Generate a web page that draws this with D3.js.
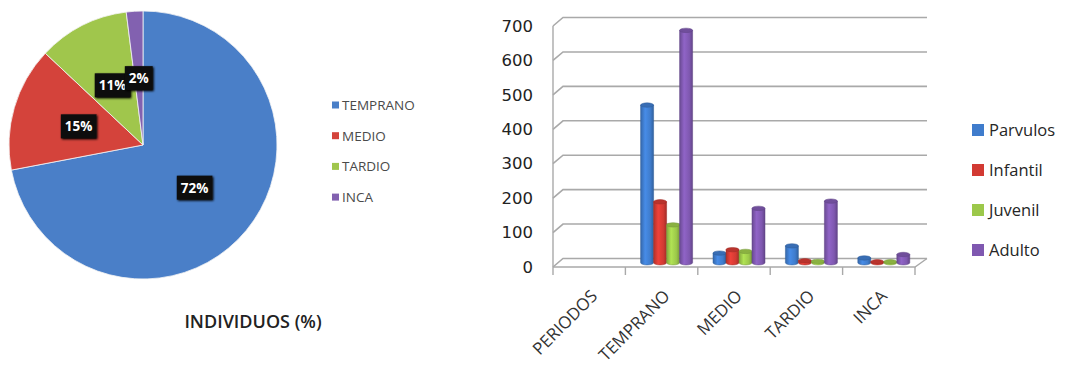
<!DOCTYPE html>
<html>
<head>
<meta charset="utf-8">
<script src="https://cdn.jsdelivr.net/npm/d3@7/dist/d3.min.js"></script>
<style>
  body { margin: 0; background: #fff; }
  svg { display: block; }
</style>
</head>
<body>
<svg id="chart" width="1065" height="366"></svg>
<script>
// ---- Pie: share of individuals per period ----
const periods = ["TEMPRANO", "MEDIO", "TARDIO", "INCA"];
const periodShare = [72, 15, 11, 2];
const periodColors = ["#4a7fc8", "#d4433b", "#a0c64c", "#8261b0"];

// ---- Bars: individuals per age group and period ----
const barCategories = ["PERIODOS", "TEMPRANO", "MEDIO", "TARDIO", "INCA"];
const ageGroups = ["Parvulos", "Infantil", "Juvenil", "Adulto"];
const parvulos = [0, 458, 28, 49, 14];
const infantil = [0, 177, 38, 6, 3];
const juvenil  = [0, 110, 33, 4, 3];
const adulto   = [0, 675, 158, 179, 24];
const ageColors = ["#3f7ccc", "#d23a33", "#9cc84a", "#7f58b0"];
const yTicks = [0, 100, 200, 300, 400, 500, 600, 700];

const svg = d3.select("#chart");
svg.append("rect").attr("width", 1065).attr("height", 366).attr("fill", "#fff");

const defs = svg.append("defs");
const shadow = defs.append("filter").attr("id", "lblShadow")
  .attr("x", "-30%").attr("y", "-30%").attr("width", "160%").attr("height", "160%");
shadow.append("feGaussianBlur").attr("in", "SourceAlpha").attr("stdDeviation", 1.2).attr("result", "b");
shadow.append("feOffset").attr("in", "b").attr("dx", 1).attr("dy", 1).attr("result", "o");
const merge = shadow.append("feMerge");
merge.append("feMergeNode").attr("in", "o");
merge.append("feMergeNode").attr("in", "SourceGraphic");

// ================= PIE =================
const pieCx = 143, pieCy = 145, pieR = 134;
const pieG = svg.append("g").attr("transform", `translate(${pieCx},${pieCy})`);
const pieData = d3.pie().sort(null).value(d => d)(periodShare);
const arc = d3.arc().innerRadius(0).outerRadius(pieR);
const labelArc = d3.arc().innerRadius(pieR * 0.5).outerRadius(pieR * 0.5);

pieG.selectAll("path.slice").data(pieData).join("path")
  .attr("class", "slice")
  .attr("d", arc)
  .attr("fill", (d, i) => periodColors[i])
  .attr("stroke", "#f4f4f4")
  .attr("stroke-width", 0.8);

const lbl = pieG.selectAll("g.lbl").data(pieData).join("g")
  .attr("class", "lbl")
  .attr("transform", d => `translate(${labelArc.centroid(d)})`);
lbl.append("rect").attr("filter", "url(#lblShadow)").attr("fill", "#111");
lbl.append("text")
  .attr("text-anchor", "middle")
  .attr("dy", "0.36em")
  .attr("fill", "#fff")
  .style("font-family", "'Open Sans', sans-serif")
  .style("font-weight", "bold")
  .style("font-size", "13.5px")
  .text(d => d.data + "%");
lbl.each(function () {
  const t = d3.select(this).select("text").node();
  const w = t.getComputedTextLength();
  d3.select(this).select("rect")
    .attr("x", -w / 2 - 4).attr("y", -12).attr("width", w + 8).attr("height", 24);
});

// pie legend
const pieLeg = svg.append("g").attr("transform", "translate(332,105)");
const pl = pieLeg.selectAll("g").data(periods).join("g")
  .attr("transform", (d, i) => `translate(0,${i * 30.7})`);
pl.append("rect").attr("x", 0).attr("y", -3.5).attr("width", 7).attr("height", 7)
  .attr("fill", (d, i) => periodColors[i]);
pl.append("text").attr("x", 10).attr("dy", "0.36em")
  .attr("fill", "#4a4a4a")
  .style("font-family", "'Open Sans', sans-serif")
  .style("font-size", "13.5px")
  .text(d => d);

svg.append("text")
  .attr("x", 253).attr("y", 328)
  .attr("text-anchor", "middle")
  .attr("fill", "#222")
  .style("font-family", "'Open Sans', sans-serif")
  .style("font-weight", "600")
  .style("font-size", "18px")
  .text("INDIVIDUOS (%)");

// ================= 3D-STYLE BARS =================
const floorY = 267;
const depthX = 10, depthY = -8.5;
const x0 = d3.scaleBand().domain(barCategories).range([553, 915]);
const x1 = d3.scaleBand().domain(ageGroups).range([0, x0.bandwidth()]).paddingOuter(0.785);
const y = d3.scaleLinear().domain([0, 700]).range([floorY, 26]);
const series = [parvulos, infantil, juvenil, adulto];

const barG = svg.append("g");
const gridColor = "#a9a9a9";

// back wall grid lines with the short diagonal to the front edge
barG.selectAll("path.grid").data(yTicks).join("path")
  .attr("class", "grid")
  .attr("d", v => `M${x0.range()[0]},${y(v)} L${x0.range()[0] + depthX},${y(v) + depthY} L${x0.range()[1] + depthX + 2},${y(v) + depthY}`)
  .attr("fill", "none")
  .attr("stroke", gridColor)
  .attr("stroke-width", 1.6);

// left wall edge and floor
barG.append("line")
  .attr("x1", x0.range()[0]).attr("x2", x0.range()[0])
  .attr("y1", y(700)).attr("y2", floorY)
  .attr("stroke", gridColor).attr("stroke-width", 1.4);
barG.append("path")
  .attr("d", `M${x0.range()[0]},${floorY} L${x0.range()[1]},${floorY} L${x0.range()[1] + depthX + 2},${floorY + depthY}`)
  .attr("fill", "none").attr("stroke", gridColor).attr("stroke-width", 1.4);

// category tick marks along the front edge
const bounds = barCategories.map(c => x0(c)).concat([x0.range()[1]]);
barG.selectAll("line.tick").data(bounds).join("line")
  .attr("class", "tick")
  .attr("x1", d => d).attr("x2", d => d)
  .attr("y1", floorY).attr("y2", floorY + 8)
  .attr("stroke", gridColor).attr("stroke-width", 1.4);

// cylinder shading gradients
ageColors.forEach((c, i) => {
  const g = defs.append("linearGradient").attr("id", "cyl" + i)
    .attr("x1", "0%").attr("x2", "100%").attr("y1", "0%").attr("y2", "0%");
  const base = d3.color(c);
  g.append("stop").attr("offset", "0%").attr("stop-color", base.darker(0.5));
  g.append("stop").attr("offset", "35%").attr("stop-color", base.brighter(0.35));
  g.append("stop").attr("offset", "75%").attr("stop-color", base);
  g.append("stop").attr("offset", "100%").attr("stop-color", base.darker(0.7));
});

// cylinders (placed at mid depth)
const midX = depthX / 2, midY = depthY / 2;
const bw = x1.bandwidth();
const ery = 2.2;
const bars = [];
barCategories.forEach((cat, ci) => {
  series.forEach((s, si) => {
    if (s[ci] > 0) bars.push({ cat, si, v: s[ci] });
  });
});
const cyl = barG.selectAll("g.cyl").data(bars).join("g").attr("class", "cyl")
  .attr("transform", d => `translate(${x0(d.cat) + x1(ageGroups[d.si]) + midX},0)`);
cyl.append("path")
  .attr("d", d => {
    const top = y(d.v) + midY, bot = y(0) + midY;
    return `M0,${top} L0,${bot} A${bw / 2},${ery} 0 0 0 ${bw},${bot} L${bw},${top} Z`;
  })
  .attr("fill", d => `url(#cyl${d.si})`)
  .attr("stroke", d => d3.color(ageColors[d.si]).darker(0.8))
  .attr("stroke-width", 0.5);
cyl.append("ellipse")
  .attr("cx", bw / 2).attr("cy", d => y(d.v) + midY)
  .attr("rx", bw / 2).attr("ry", ery)
  .attr("fill", d => d3.color(ageColors[d.si]).darker(0.35))
  .attr("stroke", d => d3.color(ageColors[d.si]).darker(0.8))
  .attr("stroke-width", 0.5);

// value axis labels
const yAxis = svg.append("g").attr("transform", `translate(${x0.range()[0]},0)`)
  .call(d3.axisLeft(y).tickValues(yTicks).tickSize(0).tickPadding(20).tickFormat(d3.format("d")));
yAxis.select(".domain").remove();
yAxis.selectAll("text")
  .attr("fill", "#222")
  .style("font-family", "'DejaVu Sans', sans-serif")
  .style("font-size", "16.5px");

// category labels, rotated
const xAxis = svg.append("g").attr("transform", `translate(0,${floorY})`)
  .call(d3.axisBottom(x0).tickSize(0));
xAxis.select(".domain").remove();
xAxis.selectAll("text")
  .attr("y", 0).attr("dy", "0.35em")
  .attr("text-anchor", "end")
  .attr("transform", "translate(5,26) rotate(-45)")
  .attr("fill", "#333")
  .style("font-family", "'Open Sans', sans-serif")
  .style("font-size", "17px");

// age group legend
const barLeg = svg.append("g").attr("transform", "translate(972,130)");
const bl = barLeg.selectAll("g").data(ageGroups).join("g")
  .attr("transform", (d, i) => `translate(0,${i * 40})`);
bl.append("rect").attr("x", 0).attr("y", -6).attr("width", 12).attr("height", 12)
  .attr("fill", (d, i) => ageColors[i]);
bl.append("text").attr("x", 17).attr("dy", "0.36em")
  .attr("fill", "#262626")
  .style("font-family", "'Open Sans', sans-serif")
  .style("font-size", "16.5px")
  .text(d => d);
</script>
</body>
</html>
